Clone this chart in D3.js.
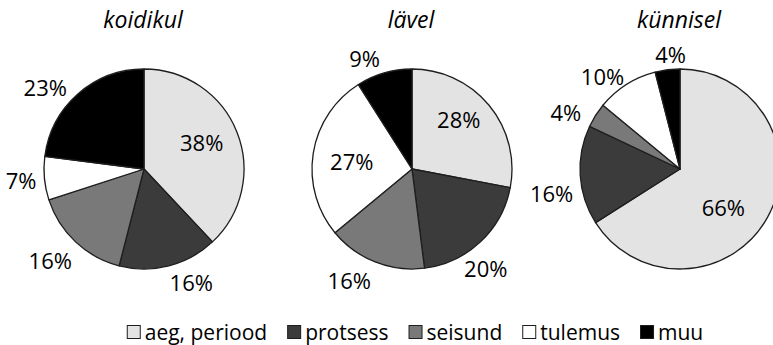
<!DOCTYPE html>
<html>
<head>
<meta charset="utf-8">
<script src="https://cdn.jsdelivr.net/npm/d3@7"></script>
<style>
  html, body { margin: 0; padding: 0; background: #fff; }
  svg { display: block; }
  text { font-family: "Open Sans", "DejaVu Sans", sans-serif; fill: #000; }
</style>
</head>
<body>
<svg id="chart" width="773" height="345"></svg>
<script>
// Categories (legend order, clockwise from 12 o'clock)
const categories = ["aeg, periood", "protsess", "seisund", "tulemus", "muu"];
const categoryColors = ["#e3e3e3", "#3a3b3a", "#797979", "#ffffff", "#000000"];

// Pie titles
const pieTitles = ["koidikul", "lävel", "künnisel"];

// Shares (%) per pie, in category order
const koidikul = [38, 16, 16, 7, 23];
const lavel    = [28, 20, 16, 27, 9];
const kunnisel = [66, 16, 4, 10, 4];
const pieValues = [koidikul, lavel, kunnisel];

// Label placement: inside the slice or just outside the rim, plus small nudges
const insideLabels = [[true, false, false, false, false],
                      [true, false, false, true, false],
                      [true, false, false, false, false]];
const labelNudge = [
  [[0, -4], [15, -2], [-5, 4], [0, 0], [-13, 7]],
  [[-1, -10], [-15, 12], [-15, 0], [1, 2], [-13, 3]],
  [[-11, 8], [1, 17], [-10, 7], [-8, 7], [6, 3]]
];

const svg = d3.select("#chart");
const radius = 100;
const centersX = d3.scalePoint().domain(d3.range(3)).range([144, 680]);
const cy = 169;
const labelSize = 22, legendSize = 21;

const color = d3.scaleOrdinal().domain(categories).range(categoryColors);
const pie = d3.pie().sort(null).value(d => d.value);
const arc = d3.arc().innerRadius(0).outerRadius(radius);

const measure = svg.append("text").attr("visibility", "hidden");
function textWidth(s, size) {
  measure.attr("font-size", size).text(s);
  return measure.node().getComputedTextLength();
}

pieValues.forEach((vals, i) => {
  const cx = centersX(i);
  const g = svg.append("g").attr("transform", `translate(${cx},${cy})`);
  const data = pie(vals.map((v, k) => ({ cat: categories[k], value: v, k })));

  g.selectAll("path.slice")
    .data(data)
    .join("path")
    .attr("class", "slice")
    .attr("d", arc)
    .attr("fill", d => color(d.data.cat))
    .attr("stroke", "#1e1e1e")
    .attr("stroke-width", 1.3)
    .attr("stroke-linejoin", "round");

  g.selectAll("text.val")
    .data(data)
    .join("text")
    .attr("class", "val")
    .attr("font-size", labelSize)
    .attr("text-anchor", "middle")
    .attr("dominant-baseline", "central")
    .attr("transform", d => {
      const a = (d.startAngle + d.endAngle) / 2;
      const dx = Math.sin(a), dy = -Math.cos(a);
      const [nx, ny] = labelNudge[i][d.data.k];
      if (insideLabels[i][d.data.k]) {
        const rr = radius * 0.62;
        return `translate(${dx * rr + nx},${dy * rr + ny})`;
      }
      const w = textWidth(d.data.value + "%", labelSize), h = 22;
      const rr = radius + 8;
      return `translate(${dx * rr + dx * w / 2 + nx},${dy * rr + dy * h / 2 + ny})`;
    })
    .text(d => d.data.value + "%");

  svg.append("text")
    .attr("x", cx - 1)
    .attr("y", 28)
    .attr("font-size", 23)
    .attr("font-style", "italic")
    .attr("text-anchor", "middle")
    .text(pieTitles[i]);
});

// Legend
const sw = 14, gapText = 4, gapItem = 20, legendY = 332, legendCenter = 415;
const widths = categories.map(c => textWidth(c, legendSize));
const itemW = widths.map(w => sw + gapText + w);
const total = d3.sum(itemW) + gapItem * (categories.length - 1);
let x = legendCenter - total / 2;
const legend = svg.append("g");
categories.forEach((c, k) => {
  legend.append("rect")
    .attr("x", x + 0.5).attr("y", legendY - sw / 2 + 0.5)
    .attr("width", sw - 1).attr("height", sw - 1)
    .attr("fill", color(c))
    .attr("stroke", "#1e1e1e").attr("stroke-width", 1);
  legend.append("text")
    .attr("x", x + sw + gapText)
    .attr("y", legendY)
    .attr("font-size", legendSize)
    .attr("dominant-baseline", "central")
    .text(c);
  x += itemW[k] + gapItem;
});
measure.remove();
</script>
</body>
</html>
